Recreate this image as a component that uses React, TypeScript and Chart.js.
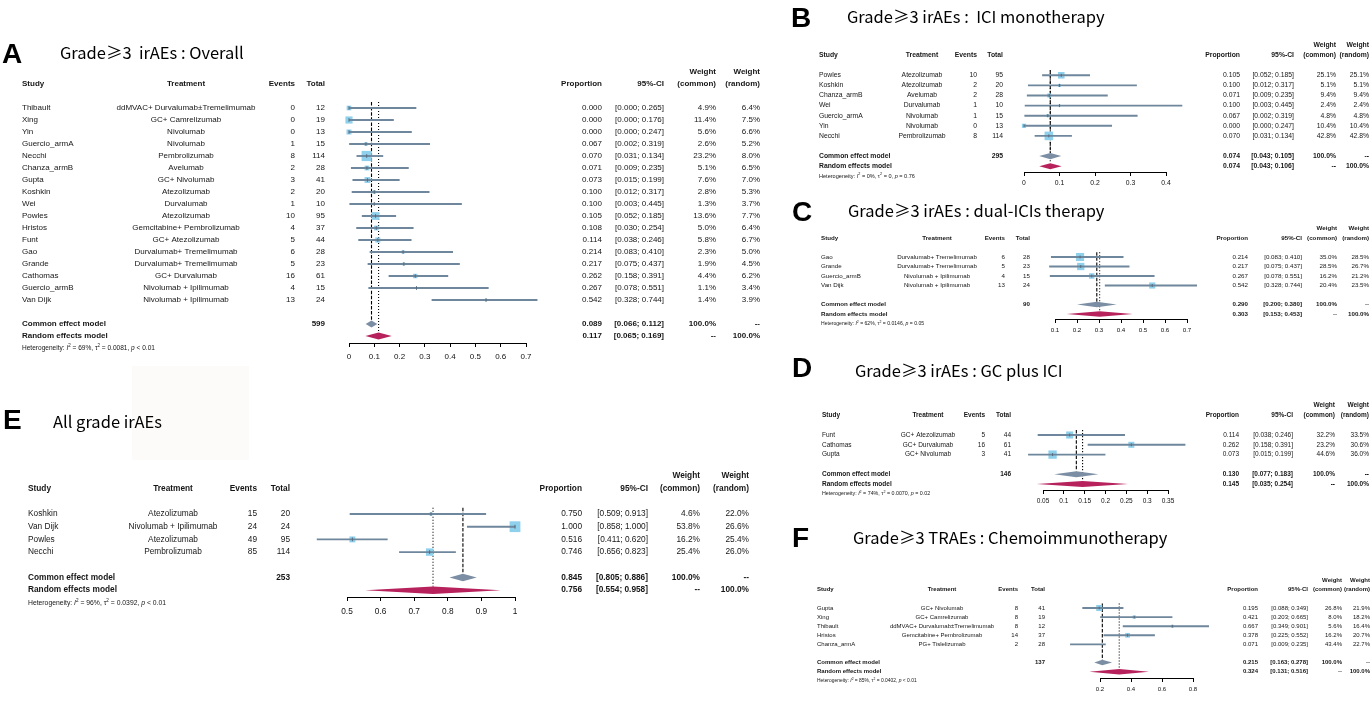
import React, { useEffect, useRef } from 'react';
import { Chart, registerables } from 'chart.js';
Chart.register(...registerables);

const FONT = '"Liberation Sans", Arial, Helvetica, sans-serif';
const TITLE_FONT = '"Noto Sans CJK SC", "Noto Sans", sans-serif';
const SQ_COLOR = '#8fd0ec';
const CI_COLOR = '#6f879c';
const COMMON_COLOR = '#7b8ea3';
const RANDOM_COLOR = '#b7225d';
const TEXT_COLOR = '#161616';

// ---------------- Panel A: Grade>=3 irAEs overall ----------------
const studiesA = ['Thibault', 'Xing', 'Yin', 'Guercio_armA', 'Necchi', 'Chanza_armB', 'Gupta', 'Koshkin', 'Wei', 'Powles', 'Hristos', 'Funt', 'Gao', 'Grande', 'Cathomas', 'Guercio_armB', 'Van Dijk'];
const treatA = ['ddMVAC+ Durvalumab\u00B1Tremelimumab', 'GC+ Camrelizumab', 'Nivolumab', 'Nivolumab', 'Pembrolizumab', 'Avelumab', 'GC+ Nivolumab', 'Atezolizumab', 'Durvalumab', 'Atezolizumab', 'Gemcitabine+ Pembrolizumab', 'GC+ Atezolizumab', 'Durvalumab+ Tremelimumab', 'Durvalumab+ Tremelimumab', 'GC+ Durvalumab', 'Nivolumab + Ipilimumab', 'Nivolumab + Ipilimumab'];
const eventsA = [0, 0, 0, 1, 8, 2, 3, 2, 1, 10, 4, 5, 6, 5, 16, 4, 13];
const totalA = [12, 19, 13, 15, 114, 28, 41, 20, 10, 95, 37, 44, 28, 23, 61, 15, 24];
const propA = [0.0, 0.0, 0.0, 0.067, 0.07, 0.071, 0.073, 0.1, 0.1, 0.105, 0.108, 0.114, 0.214, 0.217, 0.262, 0.267, 0.542];
const loA = [0.0, 0.0, 0.0, 0.002, 0.031, 0.009, 0.015, 0.012, 0.003, 0.052, 0.03, 0.038, 0.083, 0.075, 0.158, 0.078, 0.328];
const hiA = [0.265, 0.176, 0.247, 0.319, 0.134, 0.235, 0.199, 0.317, 0.445, 0.185, 0.254, 0.246, 0.41, 0.437, 0.391, 0.551, 0.744];
const wCommonA = [4.9, 11.4, 5.6, 2.6, 23.2, 5.1, 7.6, 2.8, 1.3, 13.6, 5.0, 5.8, 2.3, 1.9, 4.4, 1.1, 1.4];
const wRandomA = [6.4, 7.5, 6.6, 5.2, 8.0, 6.5, 7.0, 5.3, 3.7, 7.7, 6.4, 6.7, 5.0, 4.5, 6.2, 3.4, 3.9];
const commonA = [0.089, 0.066, 0.112];
const randomA = [0.117, 0.065, 0.169];
const sumTotalA = 599;
const hetA = ['69%', '0.0081', '< 0.01'];
const ticksA = [0, 0.1, 0.2, 0.3, 0.4, 0.5, 0.6, 0.7];
const tickLabelsA = ['0', '0.1', '0.2', '0.3', '0.4', '0.5', '0.6', '0.7'];

// ---------------- Panel B: ICI monotherapy ----------------
const studiesB = ['Powles', 'Koshkin', 'Chanza_armB', 'Wei', 'Guercio_armA', 'Yin', 'Necchi'];
const treatB = ['Atezolizumab', 'Atezolizumab', 'Avelumab', 'Durvalumab', 'Nivolumab', 'Nivolumab', 'Pembrolizumab'];
const eventsB = [10, 2, 2, 1, 1, 0, 8];
const totalB = [95, 20, 28, 10, 15, 13, 114];
const propB = [0.105, 0.1, 0.071, 0.1, 0.067, 0.0, 0.07];
const loB = [0.052, 0.012, 0.009, 0.003, 0.002, 0.0, 0.031];
const hiB = [0.185, 0.317, 0.235, 0.445, 0.319, 0.247, 0.134];
const wCommonB = [25.1, 5.1, 9.4, 2.4, 4.8, 10.4, 42.8];
const wRandomB = [25.1, 5.1, 9.4, 2.4, 4.8, 10.4, 42.8];
const commonB = [0.074, 0.043, 0.105];
const randomB = [0.074, 0.043, 0.106];
const sumTotalB = 295;
const hetB = ['0%', '0', '= 0.76'];
const ticksB = [0, 0.1, 0.2, 0.3, 0.4];
const tickLabelsB = ['0', '0.1', '0.2', '0.3', '0.4'];

// ---------------- Panel C: dual-ICIs therapy ----------------
const studiesC = ['Gao', 'Grande', 'Guercio_armB', 'Van Dijk'];
const treatC = ['Durvalumab+ Tremelimumab', 'Durvalumab+ Tremelimumab', 'Nivolumab + Ipilimumab', 'Nivolumab + Ipilimumab'];
const eventsC = [6, 5, 4, 13];
const totalC = [28, 23, 15, 24];
const propC = [0.214, 0.217, 0.267, 0.542];
const loC = [0.083, 0.075, 0.078, 0.328];
const hiC = [0.41, 0.437, 0.551, 0.744];
const wCommonC = [35.0, 28.5, 16.2, 20.4];
const wRandomC = [28.5, 26.7, 21.2, 23.5];
const commonC = [0.29, 0.2, 0.38];
const randomC = [0.303, 0.153, 0.453];
const sumTotalC = 90;
const hetC = ['62%', '0.0146', '= 0.05'];
const ticksC = [0.1, 0.2, 0.3, 0.4, 0.5, 0.6, 0.7];
const tickLabelsC = ['0.1', '0.2', '0.3', '0.4', '0.5', '0.6', '0.7'];

// ---------------- Panel D: GC plus ICI ----------------
const studiesD = ['Funt', 'Cathomas', 'Gupta'];
const treatD = ['GC+ Atezolizumab', 'GC+ Durvalumab', 'GC+ Nivolumab'];
const eventsD = [5, 16, 3];
const totalD = [44, 61, 41];
const propD = [0.114, 0.262, 0.073];
const loD = [0.038, 0.158, 0.015];
const hiD = [0.246, 0.391, 0.199];
const wCommonD = [32.2, 23.2, 44.6];
const wRandomD = [33.5, 30.6, 36.0];
const commonD = [0.13, 0.077, 0.183];
const randomD = [0.145, 0.035, 0.254];
const sumTotalD = 146;
const hetD = ['74%', '0.0070', '= 0.02'];
const ticksD = [0.05, 0.1, 0.15, 0.2, 0.25, 0.3, 0.35];
const tickLabelsD = ['0.05', '0.1', '0.15', '0.2', '0.25', '0.3', '0.35'];

// ---------------- Panel E: All grade irAEs ----------------
const studiesE = ['Koshkin', 'Van Dijk', 'Powles', 'Necchi'];
const treatE = ['Atezolizumab', 'Nivolumab + Ipilimumab', 'Atezolizumab', 'Pembrolizumab'];
const eventsE = [15, 24, 49, 85];
const totalE = [20, 24, 95, 114];
const propE = [0.75, 1.0, 0.516, 0.746];
const loE = [0.509, 0.858, 0.411, 0.656];
const hiE = [0.913, 1.0, 0.62, 0.823];
const wCommonE = [4.6, 53.8, 16.2, 25.4];
const wRandomE = [22.0, 26.6, 25.4, 26.0];
const commonE = [0.845, 0.805, 0.886];
const randomE = [0.756, 0.554, 0.958];
const sumTotalE = 253;
const hetE = ['96%', '0.0392', '< 0.01'];
const ticksE = [0.5, 0.6, 0.7, 0.8, 0.9, 1];
const tickLabelsE = ['0.5', '0.6', '0.7', '0.8', '0.9', '1'];

// ---------------- Panel F: TRAEs chemoimmunotherapy ----------------
const studiesF = ['Gupta', 'Xing', 'Thibault', 'Hristos', 'Chanza_armA'];
const treatF = ['GC+ Nivolumab', 'GC+ Camrelizumab', 'ddMVAC+ Durvalumab\u00B1Tremelimumab', 'Gemcitabine+ Pembrolizumab', 'PG+ Tislelizumab'];
const eventsF = [8, 8, 8, 14, 2];
const totalF = [41, 19, 12, 37, 28];
const propF = [0.195, 0.421, 0.667, 0.378, 0.071];
const loF = [0.088, 0.203, 0.349, 0.225, 0.009];
const hiF = [0.349, 0.665, 0.901, 0.552, 0.235];
const wCommonF = [26.8, 8.0, 5.6, 16.2, 43.4];
const wRandomF = [21.9, 18.2, 16.4, 20.7, 22.7];
const commonF = [0.215, 0.163, 0.278];
const randomF = [0.324, 0.131, 0.516];
const sumTotalF = 137;
const hetF = ['85%', '0.0402', '< 0.01'];
const ticksF = [0.2, 0.4, 0.6, 0.8];
const tickLabelsF = ['0.2', '0.4', '0.6', '0.8'];

type PanelData = {
  letter: string; title: string;
  studies: string[]; treat: string[]; events: number[]; totals: number[];
  props: number[]; lo: number[]; hi: number[]; wc: number[]; wr: number[];
  common: number[]; random: number[]; sumTotal: number; het: string[];
  ticks: number[]; tickLabels: string[];
};
type Cols = { study: number; treat: number; events: number; total: number; prop: number; ci: number; wc: number; wr: number };
type PanelLayout = {
  box: number[]; cols: Cols; xPx: number[]; row0: number; step: number; axis: number;
  font: number; tickPad: number; letter: number[]; title: number[]; titleSize: number;
};

const dataA: PanelData = { letter: 'A', title: 'Grade\u22653  irAEs : Overall', studies: studiesA, treat: treatA, events: eventsA, totals: totalA, props: propA, lo: loA, hi: hiA, wc: wCommonA, wr: wRandomA, common: commonA, random: randomA, sumTotal: sumTotalA, het: hetA, ticks: ticksA, tickLabels: tickLabelsA };
const dataB: PanelData = { letter: 'B', title: 'Grade\u22653 irAEs :  ICI monotherapy', studies: studiesB, treat: treatB, events: eventsB, totals: totalB, props: propB, lo: loB, hi: hiB, wc: wCommonB, wr: wRandomB, common: commonB, random: randomB, sumTotal: sumTotalB, het: hetB, ticks: ticksB, tickLabels: tickLabelsB };
const dataC: PanelData = { letter: 'C', title: 'Grade\u22653 irAEs : dual-ICIs therapy', studies: studiesC, treat: treatC, events: eventsC, totals: totalC, props: propC, lo: loC, hi: hiC, wc: wCommonC, wr: wRandomC, common: commonC, random: randomC, sumTotal: sumTotalC, het: hetC, ticks: ticksC, tickLabels: tickLabelsC };
const dataD: PanelData = { letter: 'D', title: 'Grade\u22653 irAEs : GC plus ICI', studies: studiesD, treat: treatD, events: eventsD, totals: totalD, props: propD, lo: loD, hi: hiD, wc: wCommonD, wr: wRandomD, common: commonD, random: randomD, sumTotal: sumTotalD, het: hetD, ticks: ticksD, tickLabels: tickLabelsD };
const dataE: PanelData = { letter: 'E', title: 'All grade irAEs', studies: studiesE, treat: treatE, events: eventsE, totals: totalE, props: propE, lo: loE, hi: hiE, wc: wCommonE, wr: wRandomE, common: commonE, random: randomE, sumTotal: sumTotalE, het: hetE, ticks: ticksE, tickLabels: tickLabelsE };
const dataF: PanelData = { letter: 'F', title: 'Grade\u22653 TRAEs : Chemoimmunotherapy', studies: studiesF, treat: treatF, events: eventsF, totals: totalF, props: propF, lo: loF, hi: hiF, wc: wCommonF, wr: wRandomF, common: commonF, random: randomF, sumTotal: sumTotalF, het: hetF, ticks: ticksF, tickLabels: tickLabelsF };

const layoutA: PanelLayout = { box: [0, 30, 800, 339], cols: { study: 22, treat: 186, events: 295, total: 325, prop: 602, ci: 664, wc: 716, wr: 760 }, xPx: [349, 526], row0: 108, step: 12, axis: 343, font: 8, tickPad: 5, letter: [2, 53], title: [60, 53], titleSize: 16.5 };
const layoutB: PanelLayout = { box: [780, 0, 591, 198], cols: { study: 819, treat: 922, events: 977, total: 1003, prop: 1240, ci: 1294, wc: 1336, wr: 1369 }, xPx: [1024, 1166], row0: 75.3, step: 10.1, axis: 172, font: 6.8, tickPad: 3.5, letter: [791, 17], title: [847, 17], titleSize: 16.5 };
const layoutC: PanelLayout = { box: [780, 195, 591, 150], cols: { study: 821, treat: 937, events: 1005, total: 1030, prop: 1248, ci: 1302, wc: 1337, wr: 1369 }, xPx: [1055, 1187], row0: 257, step: 9.5, axis: 319, font: 6.2, tickPad: 3.5, letter: [792, 211], title: [848, 211], titleSize: 16.5 };
const layoutD: PanelLayout = { box: [780, 345, 591, 171], cols: { study: 822, treat: 928, events: 985, total: 1011, prop: 1239, ci: 1293, wc: 1335, wr: 1369 }, xPx: [1043, 1168], row0: 435, step: 9.8, axis: 490, font: 6.5, tickPad: 3.5, letter: [792, 367], title: [855, 371], titleSize: 16.5 };
const layoutE: PanelLayout = { box: [0, 395, 800, 228], cols: { study: 28, treat: 173, events: 257, total: 290, prop: 582, ci: 648, wc: 700, wr: 749 }, xPx: [347, 515], row0: 514, step: 12.7, axis: 597, font: 8.3, tickPad: 6, letter: [3, 419], title: [53, 422], titleSize: 16.5 };
const layoutF: PanelLayout = { box: [780, 516, 591, 188], cols: { study: 817, treat: 942, events: 1018, total: 1045, prop: 1258, ci: 1308, wc: 1342, wr: 1370 }, xPx: [1100, 1193], row0: 608, step: 9.1, axis: 678, font: 6.0, tickPad: 3.5, letter: [792, 537], title: [853, 538], titleSize: 16.5 };

const PANELS = [
  { d: dataA, l: layoutA },
  { d: dataB, l: layoutB },
  { d: dataC, l: layoutC },
  { d: dataD, l: layoutD },
  { d: dataE, l: layoutE },
  { d: dataF, l: layoutF },
];

const f3 = (v: number) => v.toFixed(3);
const ciText = (lo: number, hi: number) => `[${f3(lo)}; ${f3(hi)}]`;
const pct = (v: number) => `${v.toFixed(1)}%`;

function drawHet(ctx: CanvasRenderingContext2D, x: number, y: number, size: number, het: string[]) {
  const segs = [
    { t: 'Heterogeneity: ' }, { t: 'I', it: true }, { t: '2', sup: true }, { t: ` = ${het[0]}, ` },
    { t: '\u03C4' }, { t: '2', sup: true }, { t: ` = ${het[1]}, ` }, { t: 'p', it: true }, { t: ` ${het[2]}` },
  ] as { t: string; it?: boolean; sup?: boolean }[];
  let cx = x;
  ctx.textAlign = 'left';
  for (const s of segs) {
    const fs = s.sup ? size * 0.68 : size;
    ctx.font = `${s.it ? 'italic ' : ''}${fs}px ${FONT}`;
    ctx.fillText(s.t, cx, s.sup ? y - size * 0.38 : y);
    cx += ctx.measureText(s.t).width;
  }
}

function makePlugin(d: PanelData, l: PanelLayout) {
  const [bl, bt] = l.box;
  const n = d.studies.length;
  const rowC = n + 1;
  const rowR = n + 2;
  return {
    id: 'forest' + d.letter,
    beforeDatasetsDraw(chart: any) {
      const { ctx, scales } = chart;
      const x = scales.x; const y = scales.y;
      const top = y.getPixelForValue(-0.5);
      ctx.save();
      ctx.strokeStyle = '#000';
      ctx.lineWidth = 1.1;
      ctx.setLineDash([3.5, 1.6]);
      const xc = x.getPixelForValue(d.common[0]);
      ctx.beginPath(); ctx.moveTo(xc, top); ctx.lineTo(xc, y.getPixelForValue(rowC - 0.3)); ctx.stroke();
      ctx.setLineDash([1.1, 1.9]);
      const xr = x.getPixelForValue(d.random[0]);
      ctx.beginPath(); ctx.moveTo(xr, top); ctx.lineTo(xr, y.getPixelForValue(rowR - 0.3)); ctx.stroke();
      ctx.restore();
    },
    afterDatasetsDraw(chart: any) {
      const { ctx, scales } = chart;
      const x = scales.x; const y = scales.y;
      const h = l.step * 0.3;
      const drawDiamond = (vals: number[], row: number, color: string) => {
        const cy = y.getPixelForValue(row);
        ctx.beginPath();
        ctx.moveTo(x.getPixelForValue(vals[1]), cy);
        ctx.lineTo(x.getPixelForValue(vals[0]), cy - h);
        ctx.lineTo(x.getPixelForValue(vals[2]), cy);
        ctx.lineTo(x.getPixelForValue(vals[0]), cy + h);
        ctx.closePath();
        ctx.fillStyle = color;
        ctx.fill();
      };
      ctx.save();
      drawDiamond(d.common, rowC, COMMON_COLOR);
      drawDiamond(d.random, rowR, RANDOM_COLOR);
      ctx.restore();
    },
    afterDraw(chart: any) {
      const { ctx, scales } = chart;
      const y = scales.y;
      const c = l.cols;
      const X = (v: number) => v - bl;
      const fs = l.font;
      const reg = `${fs}px ${FONT}`;
      const bold = `bold ${fs}px ${FONT}`;
      ctx.save();
      ctx.fillStyle = TEXT_COLOR;
      ctx.textBaseline = 'middle';
      const txt = (s: string, xx: number, yy: number, align: CanvasTextAlign, font: string) => {
        ctx.font = font; ctx.textAlign = align; ctx.fillText(s, X(xx), yy);
      };
      // letter + title
      ctx.textBaseline = 'alphabetic';
      ctx.fillStyle = '#000';
      txt(d.letter, l.letter[0], l.letter[1] - bt + 10, 'left', `bold 28px ${FONT}`);
      txt(d.title, l.title[0], l.title[1] - bt + l.titleSize * 0.36, 'left', `${l.titleSize}px ${TITLE_FONT}`);
      ctx.textBaseline = 'middle';
      ctx.fillStyle = TEXT_COLOR;
      // headers
      const yh = y.getPixelForValue(-2);
      const yh1 = y.getPixelForValue(-3);
      txt('Study', c.study, yh, 'left', bold);
      txt('Treatment', c.treat, yh, 'center', bold);
      txt('Events', c.events, yh, 'right', bold);
      txt('Total', c.total, yh, 'right', bold);
      txt('Proportion', c.prop, yh, 'right', bold);
      txt('95%-CI', c.ci, yh, 'right', bold);
      txt('Weight', c.wc, yh1, 'right', bold);
      txt('(common)', c.wc, yh, 'right', bold);
      txt('Weight', c.wr, yh1, 'right', bold);
      txt('(random)', c.wr, yh, 'right', bold);
      // rows
      for (let i = 0; i < n; i++) {
        const yy = y.getPixelForValue(i);
        txt(d.studies[i], c.study, yy, 'left', reg);
        txt(d.treat[i], c.treat, yy, 'center', reg);
        txt(String(d.events[i]), c.events, yy, 'right', reg);
        txt(String(d.totals[i]), c.total, yy, 'right', reg);
        txt(f3(d.props[i]), c.prop, yy, 'right', reg);
        txt(ciText(d.lo[i], d.hi[i]), c.ci, yy, 'right', reg);
        txt(pct(d.wc[i]), c.wc, yy, 'right', reg);
        txt(pct(d.wr[i]), c.wr, yy, 'right', reg);
      }
      const yc = y.getPixelForValue(rowC);
      const yr = y.getPixelForValue(rowR);
      txt('Common effect model', c.study, yc, 'left', bold);
      txt(String(d.sumTotal), c.total, yc, 'right', bold);
      txt(f3(d.common[0]), c.prop, yc, 'right', bold);
      txt(ciText(d.common[1], d.common[2]), c.ci, yc, 'right', bold);
      txt('100.0%', c.wc, yc, 'right', bold);
      txt('--', c.wr, yc, 'right', bold);
      txt('Random effects model', c.study, yr, 'left', bold);
      txt(f3(d.random[0]), c.prop, yr, 'right', bold);
      txt(ciText(d.random[1], d.random[2]), c.ci, yr, 'right', bold);
      txt('--', c.wc, yr, 'right', bold);
      txt('100.0%', c.wr, yr, 'right', bold);
      drawHet(ctx, X(c.study), y.getPixelForValue(n + 3), fs * 0.82, d.het);
      ctx.restore();
    },
  };
}

function ForestPanel({ d, l }: { d: PanelData; l: PanelLayout }) {
  const ref = useRef<HTMLCanvasElement>(null);
  useEffect(() => {
    const canvas = ref.current;
    if (!canvas) return;
    const [bl, bt, bw, bh] = l.box;
    const AXH = 24;
    const yMax = (l.axis - l.row0) / l.step;
    const padTop = l.row0 - l.step - bt;
    const padLeft = l.xPx[0] - bl;
    const padRight = bl + bw - l.xPx[1];
    const padBottom = bh - (l.axis - bt) - AXH;
    const wMax = Math.max(...d.wc);
    const radii = d.wc.map((w) => (l.step * 0.85 * Math.sqrt(w / wMax)) / Math.SQRT2);
    const pts = d.studies.map((_, i) => ({ x: d.props[i], y: i }));
    const chart = new Chart(canvas, {
      type: 'bar',
      data: {
        datasets: [
          {
            type: 'bar',
            label: '95%-CI',
            data: d.studies.map((_, i) => ({ x: [d.lo[i], d.hi[i]], y: i })) as any,
            backgroundColor: CI_COLOR,
            barThickness: 1.2,
            order: 2,
            clip: false as any,
          } as any,
          {
            type: 'scatter',
            label: 'Proportion',
            data: pts,
            indexAxis: 'x',
            pointStyle: 'rect',
            pointRadius: radii,
            pointBackgroundColor: SQ_COLOR,
            pointBorderWidth: 0,
            order: 3,
            clip: false as any,
          } as any,
          {
            type: 'scatter',
            label: 'Estimate',
            data: pts,
            indexAxis: 'x',
            pointStyle: 'line',
            pointRotation: 90,
            pointRadius: l.step * 0.15,
            pointBorderColor: '#566b7e',
            pointBorderWidth: 1,
            order: 1,
            clip: false as any,
          } as any,
        ],
      },
      options: {
        indexAxis: 'y',
        responsive: false,
        animation: false,
        events: [],
        layout: { padding: { left: padLeft, right: padRight, top: padTop, bottom: padBottom } },
        plugins: { legend: { display: false }, tooltip: { enabled: false }, title: { display: false } },
        scales: {
          x: {
            type: 'linear',
            position: 'bottom',
            min: d.ticks[0],
            max: d.ticks[d.ticks.length - 1],
            afterBuildTicks: (s: any) => { s.ticks = d.ticks.map((v) => ({ value: v })); },
            afterFit: (s: any) => { s.height = AXH; },
            ticks: {
              autoSkip: false,
              maxRotation: 0,
              padding: l.tickPad,
              color: '#111',
              font: { family: FONT, size: l.font },
              callback: (_v: any, i: number) => d.tickLabels[i],
            },
            grid: { drawOnChartArea: false, drawTicks: true, tickLength: 4, color: '#000', tickColor: '#000', lineWidth: 1 },
            border: { display: true, color: '#000', width: 1 },
          },
          y: {
            type: 'linear',
            display: false,
            reverse: true,
            min: -1,
            max: yMax,
            offset: false,
          },
        },
      } as any,
      plugins: [makePlugin(d, l)],
    });
    return () => chart.destroy();
  }, [d, l]);
  const [bl, bt, bw, bh] = l.box;
  return (
    <canvas
      ref={ref}
      width={bw}
      height={bh}
      style={{ position: 'absolute', left: bl, top: bt, width: bw, height: bh }}
    />
  );
}

export default function App() {
  return (
    <div style={{ position: 'fixed', left: 0, top: 0, width: 1371, height: 710, background: '#ffffff', overflow: 'hidden' }}>
      <div style={{ position: 'absolute', left: 132, top: 366, width: 117, height: 94, background: '#fcfbf9' }} />
      {PANELS.map((p) => (
        <ForestPanel key={p.d.letter} d={p.d} l={p.l} />
      ))}
    </div>
  );
}
